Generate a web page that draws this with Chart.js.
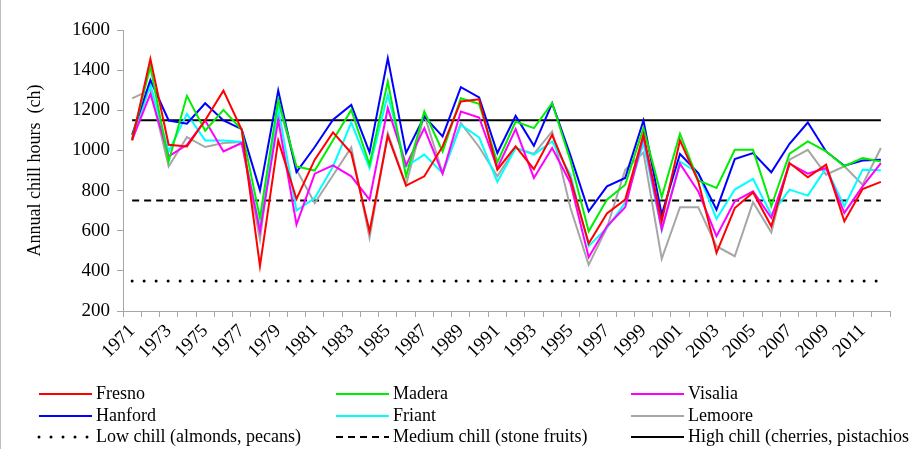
<!DOCTYPE html>
<html>
<head>
<meta charset="utf-8">
<script src="https://cdn.jsdelivr.net/npm/chart.js@4"></script>
<style>
   body { margin: 0; background: #ffffff; }
   canvas { display: block; }
</style>
</head>
<body>
<canvas id="graph" width="909" height="449"></canvas>
<script>
const years = ["1971", "1972", "1973", "1974", "1975", "1976", "1977", "1978", "1979", "1980",
   "1981", "1982", "1983", "1984", "1985", "1986", "1987", "1988", "1989", "1990",
   "1991", "1992", "1993", "1994", "1995", "1996", "1997", "1998", "1999", "2000",
   "2001", "2002", "2003", "2004", "2005", "2006", "2007", "2008", "2009", "2010",
   "2011", "2012"];

const fresno = [1050, 1456, 1028, 1020, 1150, 1298, 1103, 424, 1050, 758,
   954, 1090, 987, 597, 1073, 825, 871, 1020, 1244, 1255,
   904, 1020, 907, 1078, 860, 536, 686, 755, 1078, 647,
   1050, 846, 490, 713, 791, 622, 937, 866, 929, 647,
   808, 843];
const madera = [1061, 1418, 945, 1272, 1098, 1202, 1103, 664, 1252, 920,
   900, 1051, 1202, 930, 1343, 871, 1194, 995, 1260, 1232,
   940, 1144, 1111, 1235, 950, 597, 755, 829, 1111, 768,
   1083, 851, 813, 1003, 1003, 722, 984, 1045, 995, 921,
   962, 945];
const visalia = [1053, 1282, 970, 1028, 1149, 995, 1037, 597, 1153, 631,
   884, 926, 871, 755, 1211, 926, 1111, 884, 1194, 1164,
   912, 1106, 863, 1012, 838, 468, 622, 717, 1070, 606,
   934, 796, 573, 747, 796, 664, 934, 884, 912, 689,
   821, 937];
const hanford = [1078, 1351, 1149, 1133, 1235, 1149, 1106, 801, 1298, 892,
   1017, 1153, 1227, 990, 1459, 987, 1169, 1070, 1315, 1264,
   987, 1172, 1023, 1235, 975, 697, 821, 863, 1149, 680,
   982, 887, 705, 957, 987, 891, 1033, 1139, 995, 924,
   950, 954];
const friant = [1050, 1327, 995, 1182, 1050, 1050, 1042, 614, 1211, 700,
   763, 920, 1139, 912, 1277, 920, 979, 887, 1128, 1065,
   843, 1012, 979, 1045, 879, 523, 614, 740, 1037, 602,
   945, 887, 659, 805, 858, 680, 805, 775, 912, 722,
   904, 901];
const lemoore = [1259, 1302, 920, 1066, 1017, 1037, 1042, 556, 1244, 904,
   738, 876, 1015, 564, 1086, 829, 1177, 887, 1136, 1017,
   871, 1012, 983, 1095, 714, 430, 615, 904, 990, 460,
   717, 717, 523, 473, 742, 592, 954, 1003, 879, 921,
   829, 1012];

const lowChill = 350;
const mediumChill = 750;
const highChill = 1150;

const yTicks = [200, 400, 600, 800, 1000, 1200, 1400, 1600];

const serif = "'Liberation Serif', 'Times New Roman', serif";

function flat(value)
{
   return years.map(() => value);
}

function series(label, data, color)
{
   return {
      label: label,
      data: data,
      borderColor: color,
      backgroundColor: color,
      borderWidth: 2,
      pointRadius: 0,
      tension: 0
   };
}

// legend drawn as a fixed 3 x 3 grid under the axis
const gridLegend =
{
   id: "gridLegend",
   afterDraw: function (chart)
   {
      const ctx = chart.ctx;
      const cols = [39, 336, 631];
      const rows = [394, 416, 437];
      ctx.save();
      ctx.strokeStyle = "#bfbfbf";
      ctx.lineWidth = 1;
      ctx.beginPath();
      ctx.moveTo(0.5, 0);
      ctx.lineTo(0.5, 449);
      ctx.stroke();
      chart.data.datasets.forEach((ds, i) =>
      {
         const x = cols[i % 3];
         const y = rows[Math.floor(i / 3)];
         ctx.beginPath();
         ctx.strokeStyle = ds.borderColor;
         ctx.lineWidth = ds.borderWidth;
         ctx.lineCap = ds.borderCapStyle || "butt";
         ctx.setLineDash(ds.borderDash || []);
         ctx.moveTo(x, y);
         ctx.lineTo(x + 53, y);
         ctx.stroke();
         ctx.setLineDash([]);
         ctx.fillStyle = "#000000";
         ctx.font = "18px " + serif;
         ctx.textBaseline = "middle";
         ctx.textAlign = "left";
         ctx.fillText(ds.label, x + 57, y);
      });
      ctx.restore();
   }
};

const canvasCtx = document.getElementById("graph").getContext("2d");

new Chart(canvasCtx,
{
   type: "line",
   data:
   {
      labels: years,
      datasets:
      [
         series("Fresno", fresno, "#ff0000"),
         series("Madera", madera, "#00ee00"),
         series("Visalia", visalia, "#ff00ff"),
         series("Hanford", hanford, "#0000ff"),
         series("Friant", friant, "#00ffff"),
         series("Lemoore", lemoore, "#a6a6a6"),
         {
            label: "Low chill (almonds, pecans)",
            data: flat(lowChill),
            borderColor: "#000000",
            borderWidth: 3,
            borderDash: [0, 12],
            borderCapStyle: "round",
            pointRadius: 0
         },
         {
            label: "Medium chill (stone fruits)",
            data: flat(mediumChill),
            borderColor: "#000000",
            borderWidth: 2,
            borderDash: [7, 5],
            pointRadius: 0
         },
         {
            label: "High chill (cherries, pistachios)",
            data: flat(highChill),
            borderColor: "#000000",
            borderWidth: 2,
            pointRadius: 0
         }
      ]
   },
   options:
   {
      layout:
      {
         padding: { top: 30, right: 19, left: 0, bottom: 0 }
      },
      scales:
      {
         x:
         {
            type: "category",
            offset: true,
            afterFit: function (scale)
            {
               scale.height = 138;
            },
            border:
            {
               color: "#a6a6a6"
            },
            grid:
            {
               offset: true,
               drawOnChartArea: false,
               tickLength: 6,
               color: "#a6a6a6"
            },
            ticks:
            {
               autoSkip: false,
               minRotation: 45,
               maxRotation: 45,
               padding: 3,
               color: "#000000",
               font: { family: serif, size: 19 },
               callback: function (value, index)
               {
                  return index % 2 === 0 ? years[index] : "";
               }
            }
         },
         y:
         {
            min: 200,
            max: 1600,
            afterFit: function (scale)
            {
               scale.width = 123;
            },
            afterBuildTicks: function (scale)
            {
               scale.ticks = yTicks.map(v => ({ value: v }));
            },
            border:
            {
               color: "#a6a6a6"
            },
            grid:
            {
               drawOnChartArea: false,
               tickLength: 6,
               color: "#a6a6a6"
            },
            title:
            {
               display: true,
               text: "Annual chill hours  (ch)",
               color: "#000000",
               font: { family: serif, size: 18 },
               padding: { top: 24, bottom: 0 }
            },
            ticks:
            {
               padding: 7,
               color: "#000000",
               font: { family: serif, size: 19 },
               callback: function (value)
               {
                  return String(value);
               }
            }
         }
      },
      plugins:
      {
         legend:
         {
            display: false
         },
         tooltip:
         {
            enabled: false
         }
      },
      animation: false,
      responsive: false
   },
   plugins: [gridLegend]
});
</script>
</body>
</html>
